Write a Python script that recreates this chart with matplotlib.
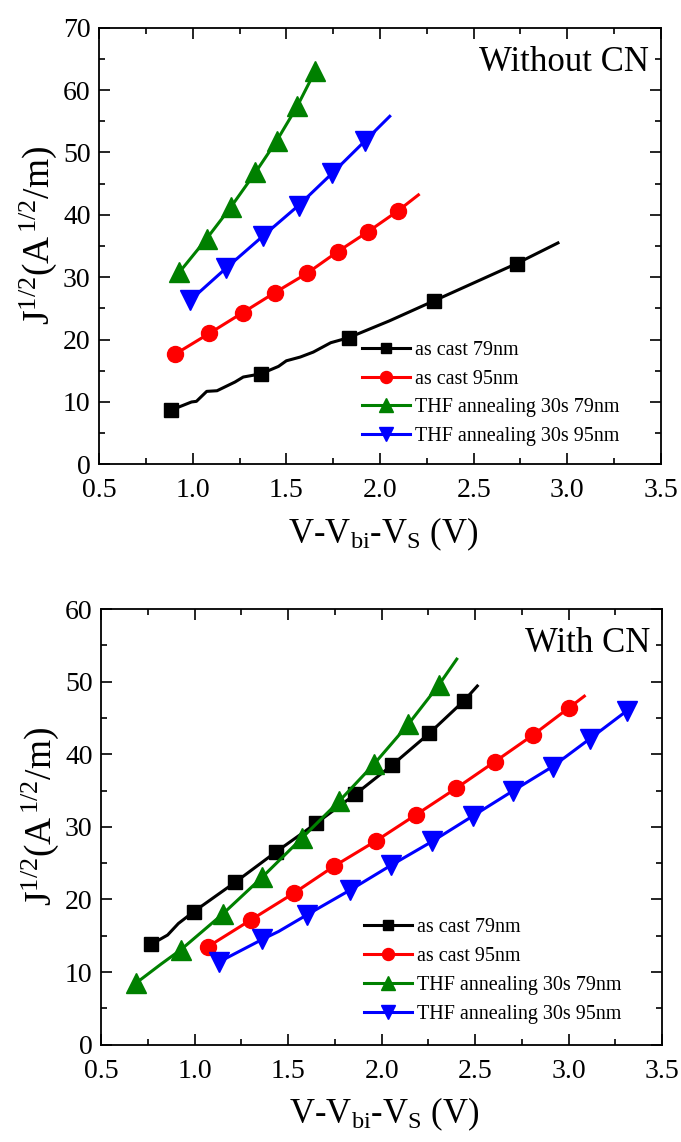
import matplotlib

matplotlib.use("Agg")
import matplotlib.pyplot as plt
from matplotlib.ticker import MultipleLocator

plt.rcParams["font.family"] = ["Liberation Serif", "DejaVu Serif"]
plt.rcParams["mathtext.fontset"] = "custom"
plt.rcParams["mathtext.rm"] = "Liberation Serif"
plt.rcParams["mathtext.it"] = "Liberation Serif:italic"
plt.rcParams["mathtext.bf"] = "Liberation Serif:bold"

LABELS = ["as cast 79nm", "as cast 95nm", "THF annealing 30s 79nm", "THF annealing 30s 95nm"]
COLORS = ["#000000", "#ff0000", "#008000", "#0000ff"]
MARKERS = ["s", "o", "^", "v"]

# --- without CN ---
top_cast79_x = [0.885, 0.994, 1.02, 1.075, 1.13, 1.226, 1.27, 1.363, 1.458, 1.50, 1.574, 1.644,
                1.737, 1.832, 2.05, 2.287, 2.730, 2.95]
top_cast79_y = [8.7, 10.0, 10.1, 11.7, 11.8, 13.2, 14.0, 14.5, 15.7, 16.6, 17.2, 18.0,
                19.5, 20.3, 23.0, 26.2, 32.2, 35.5]
top_cast79_marks = [0, 7, 13, 15, 16]

top_cast95_x = [0.908, 1.089, 1.266, 1.437, 1.609, 1.774, 1.936, 2.094, 2.205]
top_cast95_y = [17.7, 21.0, 24.3, 27.5, 30.6, 34.1, 37.3, 40.6, 43.2]
top_cast95_marks = [0, 1, 2, 3, 4, 5, 6, 7]

top_thf79_x = [0.929, 1.075, 1.205, 1.335, 1.449, 1.558, 1.653]
top_thf79_y = [30.8, 36.2, 41.3, 46.8, 51.9, 57.4, 63.0]
top_thf79_marks = [0, 1, 2, 3, 4, 5, 6]

top_thf95_x = [0.987, 1.18, 1.375, 1.565, 1.746, 1.918, 2.052]
top_thf95_y = [26.3, 31.5, 36.6, 41.5, 46.7, 51.8, 55.8]
top_thf95_marks = [0, 1, 2, 3, 4, 5]

# --- with CN ---
bot_cast79_x = [0.767, 0.856, 0.914, 0.995, 1.219, 1.433, 1.651, 1.860, 2.056, 2.256, 2.442, 2.512]
bot_cast79_y = [13.8, 15.1, 16.7, 18.3, 22.4, 26.5, 30.5, 34.5, 38.5, 42.9, 47.4, 49.4]
bot_cast79_marks = [0, 3, 4, 5, 6, 7, 8, 9, 10]

bot_cast95_x = [1.072, 1.302, 1.533, 1.747, 1.972, 2.186, 2.398, 2.607, 2.807, 3.002, 3.084]
bot_cast95_y = [13.5, 17.2, 20.9, 24.6, 28.1, 31.7, 35.3, 39.0, 42.6, 46.4, 48.0]
bot_cast95_marks = [0, 1, 2, 3, 4, 5, 6, 7, 8, 9]

bot_thf79_x = [0.688, 0.821, 0.928, 1.151, 1.363, 1.572, 1.772, 1.958, 2.142, 2.305, 2.402]
bot_thf79_y = [8.5, 11.1, 13.1, 18.0, 23.1, 28.4, 33.5, 38.6, 44.1, 49.5, 53.1]
bot_thf79_marks = [0, 2, 3, 4, 5, 6, 7, 8, 9]

bot_thf95_x = [1.131, 1.362, 1.45, 1.602, 1.832, 2.050, 2.271, 2.488, 2.705, 2.914, 3.112, 3.312]
bot_thf95_y = [11.4, 14.5, 15.6, 17.9, 21.3, 24.7, 28.0, 31.5, 35.0, 38.3, 42.1, 46.0]
bot_thf95_marks = [0, 1, 3, 4, 5, 6, 7, 8, 9, 10, 11]

X_LIM = (0.5, 3.5)
X_TICKS = [0.5, 1.0, 1.5, 2.0, 2.5, 3.0, 3.5]
TOP_Y_TICKS = [0, 10, 20, 30, 40, 50, 60, 70]
BOT_Y_TICKS = [0, 10, 20, 30, 40, 50, 60]

MARKER_SIZES = {"s": 10, "o": 11.5, "^": 14, "v": 14}


def draw_panel(ax, series, y_ticks, title, legend_top):
    for (xs, ys, marks), label, color, marker in zip(series, LABELS, COLORS, MARKERS):
        ax.plot(xs, ys, color=color, lw=2.2, marker=marker, markevery=marks,
                ms=MARKER_SIZES[marker], mec=color, mfc=color, label=label)

    ax.set_xlim(*X_LIM)
    ax.set_ylim(y_ticks[0], y_ticks[-1])
    ax.set_xticks(X_TICKS)
    ax.set_xticklabels([f"{t:.1f}" for t in X_TICKS])
    ax.set_yticks(y_ticks)
    ax.xaxis.set_minor_locator(MultipleLocator(0.25))
    ax.yaxis.set_minor_locator(MultipleLocator(5))
    ax.tick_params(which="both", direction="in", top=True, right=True, width=1.2)
    ax.tick_params(which="major", length=8, labelsize=20)
    ax.tick_params(which="minor", length=4.5)
    ax.tick_params(axis="x", which="major", pad=10)
    ax.tick_params(axis="y", which="major", pad=6)
    for spine in ax.spines.values():
        spine.set_linewidth(1.3)

    ax.set_xlabel(r"V-V$_{\mathrm{bi}}$-V$_{\mathrm{S}}$ (V)", fontsize=25)
    ax.xaxis.set_label_coords(0.505, -0.118)
    ax.set_ylabel(r"J$^{1/2}$(A$^{\,1/2}$/m)", fontsize=27)
    ax.yaxis.set_label_coords(-0.072, 0.525)

    ax.text(0.979, 0.958, title, transform=ax.transAxes, ha="right", va="top", fontsize=25)

    ax.legend(loc="upper left", bbox_to_anchor=(0.468, legend_top), frameon=False,
              fontsize=14.5, handlelength=2.4, handletextpad=0.25, labelspacing=0.48,
              borderpad=0, borderaxespad=0, markerscale=0.75)


fig = plt.figure(figsize=(6.81, 11.42), dpi=100)
ax_top = fig.add_axes([0.1454, 0.5934, 0.8252, 0.3823])
ax_bot = fig.add_axes([0.1483, 0.0852, 0.8240, 0.3815])

draw_panel(ax_top,
           [(top_cast79_x, top_cast79_y, top_cast79_marks),
            (top_cast95_x, top_cast95_y, top_cast95_marks),
            (top_thf79_x, top_thf79_y, top_thf79_marks),
            (top_thf95_x, top_thf95_y, top_thf95_marks)],
           TOP_Y_TICKS, "Without CN", 0.283)

draw_panel(ax_bot,
           [(bot_cast79_x, bot_cast79_y, bot_cast79_marks),
            (bot_cast95_x, bot_cast95_y, bot_cast95_marks),
            (bot_thf79_x, bot_thf79_y, bot_thf79_marks),
            (bot_thf95_x, bot_thf95_y, bot_thf95_marks)],
           BOT_Y_TICKS, "With CN", 0.29)

fig.savefig("out.png", dpi=100)
